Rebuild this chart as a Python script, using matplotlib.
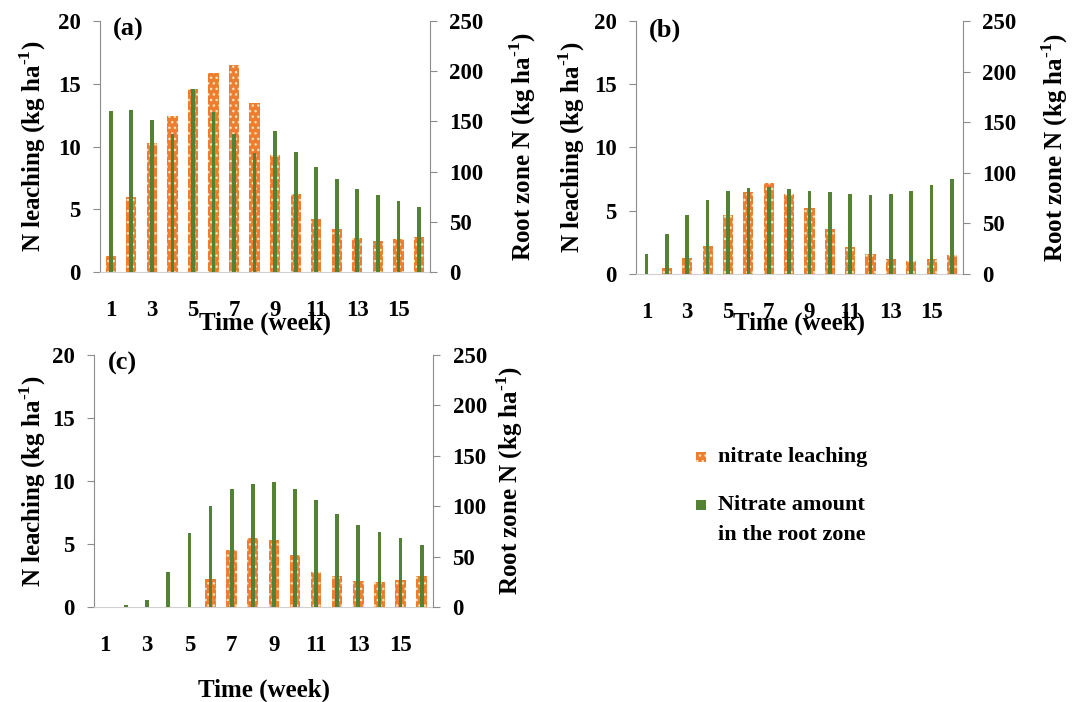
import numpy as np
import matplotlib.pyplot as plt
from matplotlib.patches import Rectangle

plt.rcParams['font.family'] = ['Liberation Serif', 'DejaVu Serif']
plt.rcParams['font.weight'] = 'bold'
plt.rcParams['mathtext.fontset'] = 'custom'
plt.rcParams['mathtext.rm'] = 'Liberation Serif:bold'
plt.rcParams['mathtext.bf'] = 'Liberation Serif:bold'
plt.rcParams['hatch.linewidth'] = 1.0

# data
weeks = np.arange(1, 17)
tick_weeks = [1, 3, 5, 7, 9, 11, 13, 15]

leach_a = [1.3, 6.0, 10.3, 12.4, 14.6, 15.9, 16.5, 13.5, 9.3, 6.2, 4.2, 3.4, 2.7, 2.5, 2.6, 2.8]
root_a = [160, 161, 151, 137, 182, 159, 137, 119, 140, 120, 105, 93, 83, 77, 71, 65]

leach_b = [0, 0.5, 1.25, 2.2, 4.7, 6.5, 7.2, 6.3, 5.2, 3.55, 2.1, 1.6, 1.15, 1.05, 1.2, 1.5]
root_b = [20, 40, 58, 73, 82, 85, 86, 84, 82, 81, 79, 78, 79, 82, 88, 94]

leach_c = [0, 0, 0, 0, 0, 2.25, 4.55, 5.45, 5.35, 4.15, 2.75, 2.45, 2.05, 2.0, 2.15, 2.5]
root_c = [0, 2, 7, 35, 73, 100, 117, 122, 124, 117, 106, 92, 81, 74, 68, 62]

ORANGE = '#ED7D31'
DOTS = '#FBE3B5'
GREEN = '#548235'
SPINE = '#8c8c8c'

left_label = 'N leaching (kg ha$^{\u2010 1}$)'
right_label = 'Root zone N (kg ha$^{\u2010 1}$)'

fig = plt.figure(figsize=(10.77, 7.02), dpi=100)


def draw_panel(rect, leach, root, tag, xlab_y, yl_left, yl_right):
    ax = fig.add_axes(rect)
    ax2 = ax.twinx()
    ax.bar(weeks, leach, width=0.5, color=ORANGE, edgecolor=DOTS,
           linewidth=0, hatch='...')
    ax2.bar(weeks, root, width=0.18, color=GREEN, linewidth=0)

    ax.set_xlim(0.48, 16.54)
    ax.set_ylim(0, 20)
    ax2.set_ylim(0, 250)
    ax.set_yticks(np.arange(0, 21, 5))
    ax2.set_yticks(np.arange(0, 251, 50))
    ax.set_xticks(tick_weeks)
    ax.set_xticklabels([str(w) for w in tick_weeks])

    ax.tick_params(axis='x', length=0, pad=20, labelsize=16.5)
    ax.tick_params(axis='y', direction='out', length=5, color=SPINE,
                   pad=9, labelsize=16.5)
    ax2.tick_params(axis='y', direction='out', length=5, color=SPINE,
                    pad=9, labelsize=16.5)

    for a in (ax, ax2):
        a.spines['top'].set_visible(False)
    ax.spines['right'].set_visible(False)
    ax2.spines['left'].set_visible(False)
    ax2.spines['bottom'].set_visible(False)
    ax.spines['left'].set_color(SPINE)
    ax2.spines['right'].set_color(SPINE)
    ax.spines['bottom'].set_color('#d0d0d0')

    ax.text(0.5, xlab_y, 'Time (week)', transform=ax.transAxes,
            ha='center', va='center', fontsize=18)
    ax.text(yl_left, 0.5, left_label, transform=ax.transAxes,
            rotation=90, ha='center', va='center', fontsize=18)
    ax.text(yl_right, 0.5, right_label, transform=ax.transAxes,
            rotation=90, ha='center', va='center', fontsize=18)
    ax.text(0.04, 0.965, tag, transform=ax.transAxes, ha='left', va='center',
            fontsize=19)
    return ax, ax2


draw_panel([0.0929, 0.6125, 0.3064, 0.3575], leach_a, root_a, '(a)',
           -0.205, -0.203, 1.282)
draw_panel([0.5905, 0.6097, 0.3036, 0.3604], leach_b, root_b, '(b)',
           -0.195, -0.196, 1.281)
draw_panel([0.0873, 0.1353, 0.3148, 0.3590], leach_c, root_c, '(c)',
           -0.33, -0.18, 1.227)

# legend, handle squares next to the first line of each entry
sq_w, sq_h = 10 / 1077, 10 / 702
x_sq, x_txt = 696 / 1077, 718 / 1077
fig.add_artist(Rectangle((x_sq, 0.349 - sq_h / 2), sq_w, sq_h,
                         transform=fig.transFigure, facecolor=ORANGE,
                         edgecolor=DOTS, linewidth=0, hatch='...'))
fig.add_artist(Rectangle((x_sq, 0.280 - sq_h / 2), sq_w, sq_h,
                         transform=fig.transFigure, facecolor=GREEN,
                         linewidth=0))
fig.text(x_txt, 0.349, 'nitrate leaching', ha='left', va='center', fontsize=16)
fig.text(x_txt, 0.280, 'Nitrate amount', ha='left', va='center', fontsize=16)
fig.text(x_txt, 0.238, 'in the root zone', ha='left', va='center', fontsize=16)

fig.savefig('out.png', dpi=100)
